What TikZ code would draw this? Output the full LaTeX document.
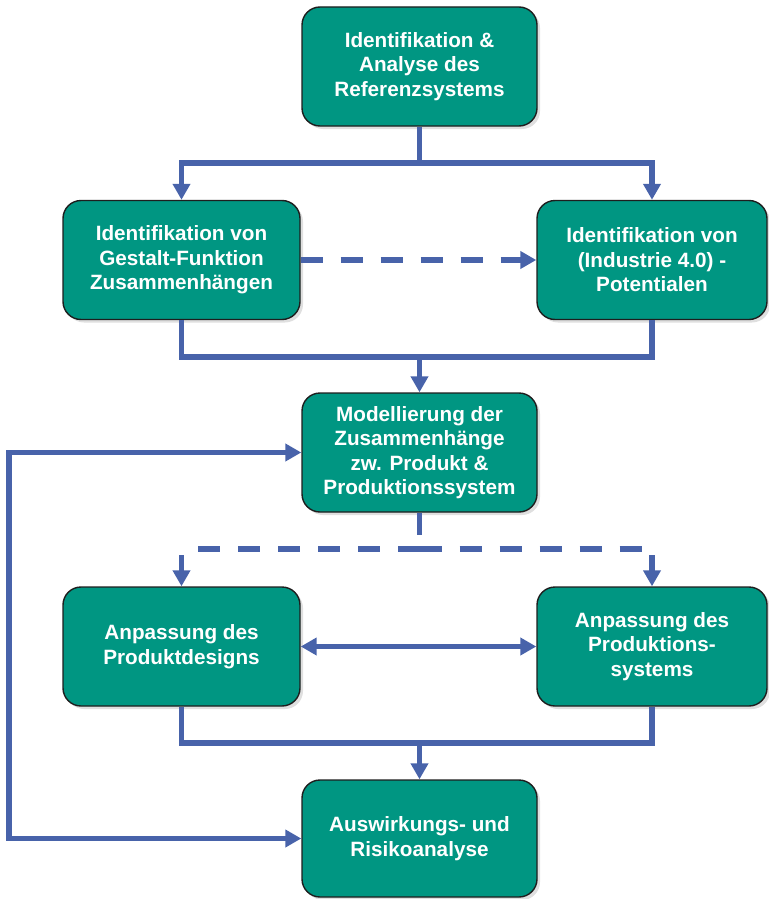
\documentclass[tikz,border=0pt]{standalone}
\usepackage{fontspec}
\setmainfont{Liberation Sans}
\usetikzlibrary{arrows.meta,shadows}

\definecolor{boxteal}{RGB}{0,150,130}
\definecolor{flowblue}{RGB}{72,99,170}
\definecolor{boxedge}{RGB}{30,30,30}

\begin{document}
\begin{tikzpicture}[x=1pt,y=-1pt,
  procbox/.style={draw=boxedge, line width=1.4pt, fill=boxteal,
    rounded corners=18pt, minimum width=235pt, minimum height=119pt,
    inner sep=0pt, text=white, align=center,
    font=\fontsize{20.7}{24.5}\selectfont\bfseries,
    drop shadow={shadow xshift=3pt, shadow yshift=-3pt, opacity=0.25}},
  flow/.style={draw=flowblue, line width=5.5pt},
  tip/.style={-{Triangle[width=17pt,length=16pt]}},
  bothtips/.style={{Triangle[width=17pt,length=16pt]}-{Triangle[width=17pt,length=16pt]}},
  dashflow/.style={flow, dash pattern=on 22pt off 18pt}]

\useasboundingbox (0,0) rectangle (768,899);

% process boxes
\node[procbox] (ref) at (419.5,66.5) {Identifikation \&\\Analyse des\\Referenzsystems};
\node[procbox, minimum width=237pt] (gf) at (181.5,260) {Identifikation von\\Gestalt-Funktion\\Zusammenhängen};
\node[procbox, minimum width=230pt] (pot) at (652,260) {Identifikation von\\(Industrie 4.0) -\\Potentialen};
\node[procbox] (mod) at (419.5,452.5) {Modellierung der\\Zusammenhänge\\zw. Produkt \&\\Produktionssystem};
\node[procbox, minimum width=237pt] (pd) at (181.5,646.5) {Anpassung des\\Produktdesigns};
\node[procbox, minimum width=230pt] (ps) at (652,646.5) {Anpassung des\\Produktions-\\systems};
\node[procbox, minimum height=117pt] (risk) at (419.5,838.5) {Auswirkungs- und\\Risikoanalyse};

% junction points of the connectors
\coordinate (j1) at (419.5,163);
\coordinate (j2) at (419.5,357);
\coordinate (j3) at (419.5,549);
\coordinate (j4) at (419.5,743);
\coordinate (aL) at (181.5,555);
\coordinate (aR) at (652,555);
\coordinate (fbTop) at (9,452.5);
\coordinate (fbBot) at (9,838.5);

% reference system -> both identification steps
\draw[flow] (ref.south) -- (j1);
\draw[flow, tip] (j1) -| (gf.north);
\draw[flow, tip] (j1) -| (pot.north);

% gestalt-function links -> potentials
\draw[dashflow, tip] (gf.east) -- (pot.west);

% both identification steps -> modelling
\draw[flow] (gf.south) |- (j2) -| (pot.south);
\draw[flow, tip] (j2) -- (mod.north);

% modelling -> adaptation (optional)
\draw[dashflow] (mod.south) -- (j3);
\draw[dashflow] (j3) -- (j3 -| pd.north);
\draw[dashflow] (j3) -- (j3 -| ps.north);
\draw[flow, tip] (aL) -- (pd.north);
\draw[flow, tip] (aR) -- (ps.north);

% product design <-> production system
\draw[flow, bothtips] (pd.east) -- (ps.west);

% both adaptations -> impact and risk analysis
\draw[flow] (pd.south) |- (j4) -| (ps.south);
\draw[flow, tip] (j4) -- (risk.north);

% feedback loop between risk analysis and modelling
\draw[flow, bothtips] (mod.west) -- (fbTop) -- (fbBot) -- (risk.west);

\end{tikzpicture}
\end{document}
